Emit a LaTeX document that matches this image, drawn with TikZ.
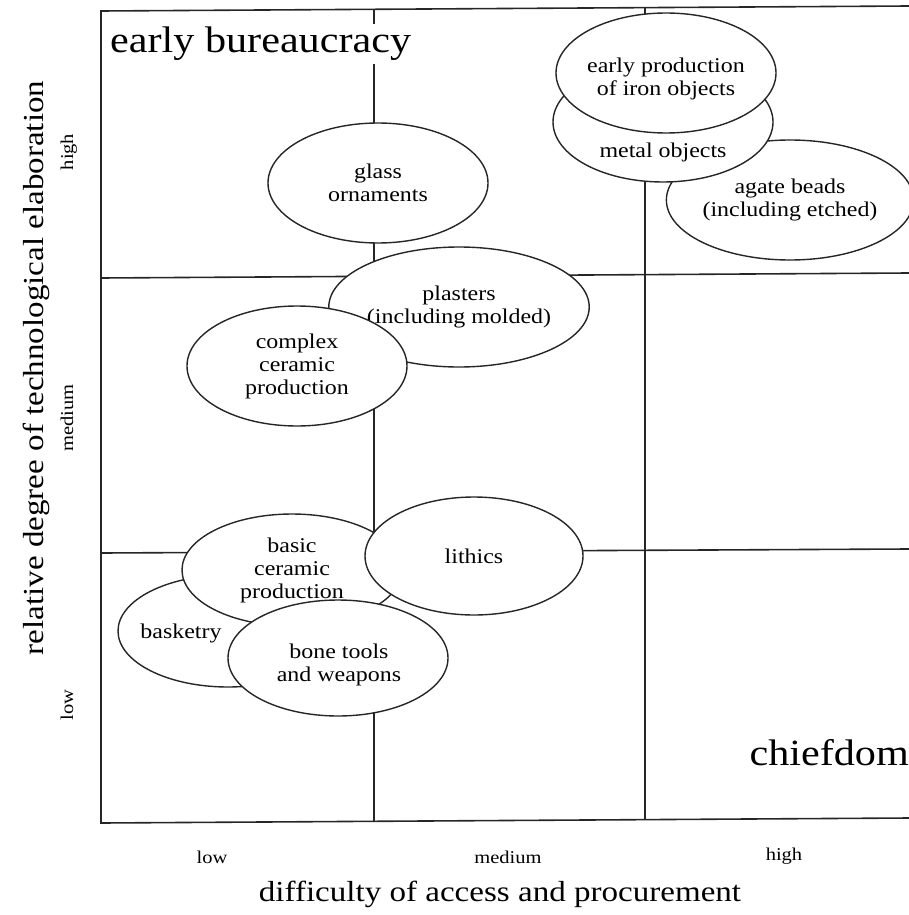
\documentclass[tikz,border=0pt]{standalone}
\usepackage{fontspec}
\setmainfont{Liberation Serif}[FakeStretch=1.14]
\usetikzlibrary{shapes.geometric}

\begin{document}
\begin{tikzpicture}[x=1pt,y=-1pt,
  gridline/.style={line width=1.6pt, black!85},
  blob/.style={ellipse, draw=black!85, line width=1.4pt, fill=white,
    minimum width=220pt, minimum height=120pt, inner sep=0pt,
    align=center, font=\fontsize{21}{23}\selectfont},
  blobtext/.style={inner sep=0pt, align=center, font=\fontsize{21}{23}\selectfont},
  regime/.style={inner sep=0pt, font=\fontsize{37}{40}\selectfont},
  ticklabel/.style={inner sep=0pt, font=\fontsize{18}{20}\selectfont},
  axistitle/.style={inner sep=0pt, font=\fontsize{29}{32}\selectfont}]
\useasboundingbox (0,0) rectangle (909,915);

% frame corners and grid points (the frame is open on the right)
\coordinate (tl) at (101,11);
\coordinate (tr) at (909,6);
\coordinate (bl) at (101,823);
\coordinate (br) at (909,818);
\coordinate (h1l) at (101,278);
\coordinate (h1r) at (909,273);
\coordinate (h2l) at (101,553);
\coordinate (h2r) at (909,549);
\coordinate (v1t) at (374,10);
\coordinate (v1b) at (374,822);
\coordinate (v2t) at (645,8);
\coordinate (v2b) at (645,820);

\draw[gridline] (tr) -- (tl) -- (bl) -- (br);
\draw[gridline] (h1l) -- (h1r);
\draw[gridline] (h2l) -- (h2r);
\draw[gridline] (v1t) -- (v1b);
\draw[gridline] (v2t) -- (v2b);

% regime labels
\node[regime, anchor=base west, fill=white, inner sep=3pt] (bureau) at (107,53) {early bureaucracy};
\node[regime, anchor=base east] (chief) at (909,765) {chiefdom};

% high elaboration
\node[blob] (glass) at (378,183) {glass\\ornaments};
\node[blob] (agate) at (790,200) {agate beads\\(including etched)};
\node[blob] (metal) at (663,122) {};
\node[blobtext] (metaltxt) at (663,152) {metal objects};
\node[blob] (iron) at (666,73) {};
\node[blobtext] (irontxt) at (666,79) {early production\\of iron objects};

% medium elaboration
\node[blob] (plaster) at (459,307) {plasters\\(including molded)};
\node[blob] (complex) at (297,366) {complex\\ceramic\\production};

% low elaboration
\node[blob, minimum height=112pt] (basket) at (228,631) {};
\node[blobtext] (baskettxt) at (181,633) {basketry};
\node[blob, minimum height=112pt] (basic) at (292,570) {basic\\ceramic\\production};
\node[blob, minimum width=218pt, minimum height=118pt] (lithics) at (474,556) {lithics};
\node[blob, minimum height=116pt] (bone) at (338,658) {};
\node[blobtext] (bonetxt) at (339,665) {bone tools\\and weapons};

% horizontal axis
\node[ticklabel, anchor=base] (xlow) at (212,863) {low};
\node[ticklabel, anchor=base] (xmed) at (508,863) {medium};
\node[ticklabel, anchor=base] (xhigh) at (784,860) {high};
\node[axistitle, anchor=base] (xtitle) at (500,901) {difficulty of access and procurement};

% vertical axis
\node[ticklabel, anchor=base, rotate=90] (yhigh) at (73,152) {high};
\node[ticklabel, anchor=base, rotate=90] (ymed) at (73,418) {medium};
\node[ticklabel, anchor=base, rotate=90] (ylow) at (73,705) {low};
\node[axistitle, anchor=base, rotate=90] (ytitle) at (43,368) {relative degree of technological elaboration};
\end{tikzpicture}
\end{document}
